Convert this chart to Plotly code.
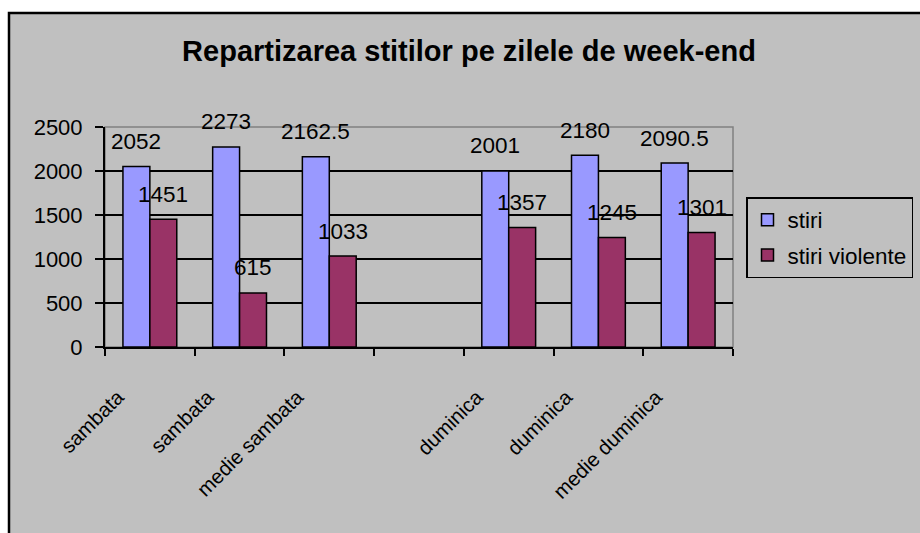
import plotly.graph_objects as go

categories = ["sambata", "sambata", "medie sambata", "", "duminica", "duminica", "medie duminica"]
stiri = [2052, 2273, 2162.5, None, 2001, 2180, 2090.5]
stiri_violente = [1451, 615, 1033, None, 1357, 1245, 1301]
y_ticks = [0, 500, 1000, 1500, 2000, 2500]
series_names = ["stiri", "stiri violente"]
colors = ["#9999FF", "#993366"]

FONT = "Arial, Liberation Sans, sans-serif"
BG = "#C0C0C0"

W, H = 920, 533
L, R, T, B = 105, 733, 127, 347  # plot area pixels
pw, ph = R - L, B - T

def px_x(x):
    return (x - L) / pw

def px_y(y):
    return (B - y) / ph

xs = list(range(len(categories)))

fig = go.Figure()
for name, vals, col in zip(series_names, [stiri, stiri_violente], colors):
    fig.add_trace(go.Bar(
        x=xs, y=vals, name=name, legendgroup=name,
        marker=dict(color=col, line=dict(color="black", width=1.5)),
    ))

# data labels
bw = (1 - 0.4) / 2
for k, vals in enumerate([stiri, stiri_violente]):
    off = -bw / 2 if k == 0 else bw / 2
    for i, v in enumerate(vals):
        if v is None:
            continue
        fig.add_annotation(
            x=i + off, y=v, xref="x", yref="y", text=f"{v:g}", showarrow=False,
            yanchor="middle", yshift=25, font=dict(family=FONT, size=22.5, color="black"),
        )

# outer chart border
fig.add_shape(type="rect", xref="paper", yref="paper",
              x0=px_x(9), x1=px_x(930), y0=px_y(545), y1=px_y(13),
              fillcolor=BG, line=dict(color="black", width=2.5), layer="below")
# plot area border (gray)
fig.add_shape(type="rect", xref="paper", yref="paper", x0=0, x1=1, y0=0, y1=1,
              line=dict(color="#808080", width=1.5), layer="below")

fig.update_layout(
    width=W, height=H,
    margin=dict(l=L, r=W - R, t=T, b=H - B, pad=0, autoexpand=False),
    paper_bgcolor="white", plot_bgcolor=BG,
    barmode="group", bargap=0.4, bargroupgap=0,
    font=dict(family=FONT, size=22, color="black"),
    title=dict(text="<b>Repartizarea stitilor pe zilele de week-end</b>",
               x=469 / W, xref="container", xanchor="center",
               y=1 - 51 / H, yref="container", yanchor="middle",
               font=dict(family=FONT, size=29, color="black")),
    legend=dict(x=px_x(746), y=px_y(197), xanchor="left", yanchor="top",
                bgcolor=BG, bordercolor="black", borderwidth=1.5,
                font=dict(family=FONT, size=22.5, color="black"),
                traceorder="grouped", tracegroupgap=3, itemwidth=30),
    showlegend=True,
)
fig.update_xaxes(
    range=[-0.5, len(categories) - 0.5], tickmode="array", tickvals=xs, ticktext=categories,
    tickangle=-45, ticks="", showgrid=False, zeroline=False,
    showline=True, linecolor="black", linewidth=2,
    tickfont=dict(family=FONT, size=20.5, color="black"),
    ticklabelstandoff=28, ticklabelshift=-32,
    minor=dict(ticks="outside", tick0=-0.5, dtick=1, ticklen=7, tickcolor="black",
               tickwidth=2, showgrid=False),
)
fig.update_yaxes(
    range=[0, 2500], tickmode="array", tickvals=y_ticks, ticks="outside", ticklen=8,
    tickcolor="black", tickwidth=2, showline=True, linecolor="black", linewidth=2,
    showgrid=True, gridcolor="black", gridwidth=1.5, zeroline=False,
    tickfont=dict(family=FONT, size=22, color="black"), ticklabelstandoff=8,
)

fig.write_html("out.html", config={"displayModeBar": False},
               post_script="document.body.style.margin='0';document.body.style.overflow='hidden';")
